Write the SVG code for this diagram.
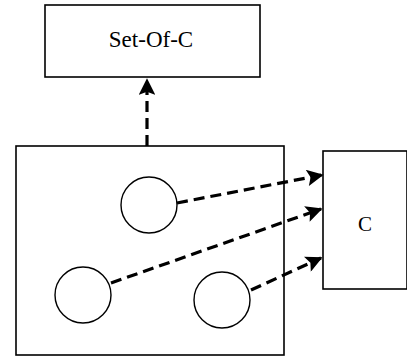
<svg xmlns="http://www.w3.org/2000/svg" width="407" height="359" viewBox="0 0 407 359">
<style>
.box{fill:#fff;stroke:#000;stroke-width:1.6}
.circ{fill:#fff;stroke:#000;stroke-width:1.4}
.lbl{font-family:"Liberation Serif",serif;fill:#000;text-anchor:middle}
.dash{fill:none;stroke:#000;stroke-width:3.2;stroke-dasharray:11 6}
</style>
<defs>
<marker id="ah" viewBox="0 0 10 10" refX="9" refY="5" markerWidth="5.5" markerHeight="5.2" markerUnits="strokeWidth" orient="auto">
<path d="M0,0 L10,5 L0,10 L2,5 Z" fill="#000"/>
</marker>
</defs>
<rect width="407" height="359" fill="#fff"/>
<g id="set-of-c">
<rect class="box" x="45" y="5" width="215" height="72"/>
<text class="lbl" x="151" y="47" font-size="23">Set-Of-C</text>
</g>
<g id="container">
<rect class="box" x="16" y="146" width="268" height="209"/>
</g>
<g id="c">
<rect class="box" x="323" y="151" width="84" height="138"/>
<text class="lbl" x="365" y="231" font-size="21">C</text>
</g>
<g id="circle1"><circle class="circ" cx="149" cy="205" r="28"/></g>
<g id="circle2"><circle class="circ" cx="83" cy="295" r="28"/></g>
<g id="circle3"><circle class="circ" cx="222" cy="300" r="28"/></g>
<g id="connectors">
<line class="dash" x1="147" y1="146" x2="147" y2="80" marker-end="url(#ah)"/>
<line class="dash" x1="177" y1="203" x2="322" y2="175" marker-end="url(#ah)"/>
<line class="dash" x1="111" y1="283" x2="321" y2="209" marker-end="url(#ah)"/>
<line class="dash" x1="251" y1="290" x2="321" y2="258" marker-end="url(#ah)"/>
</g>
</svg>
